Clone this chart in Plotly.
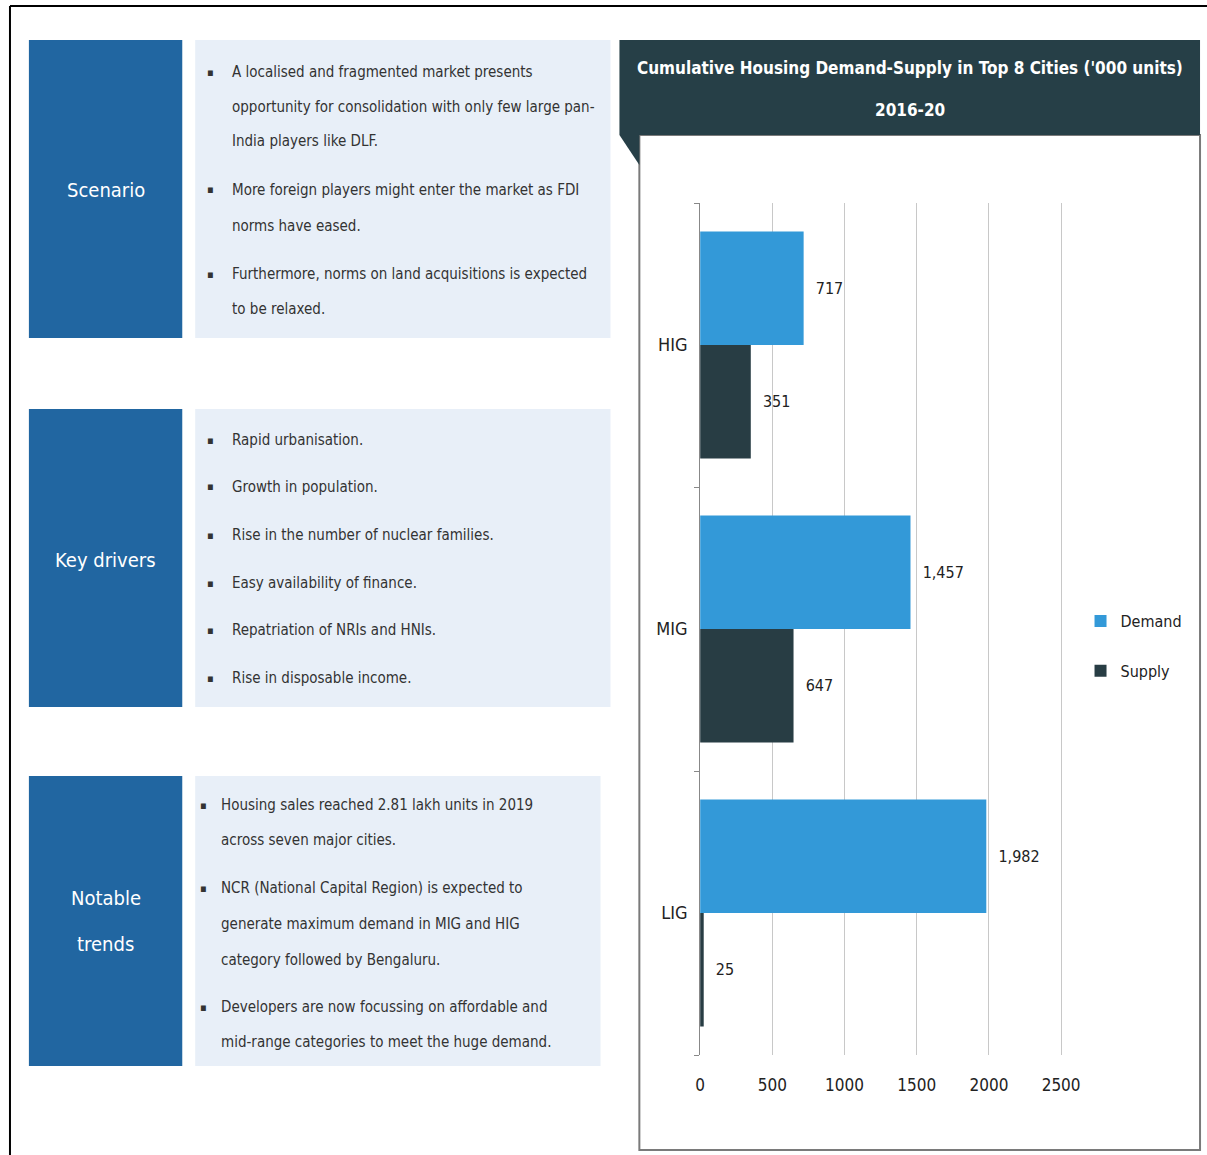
import plotly.graph_objects as go

# ---- data ----
categories = ["LIG", "MIG", "HIG"]
demand = [1982, 1457, 717]
supply = [25, 647, 351]
x_ticks = [0, 500, 1000, 1500, 2000, 2500]

title_lines = ["Cumulative Housing Demand-Supply in Top 8 Cities ('000 units)", "2016-20"]

scenario_lines = [
    ("A localised and fragmented market presents", True),
    ("opportunity for consolidation with only few large pan-", False),
    ("India players like DLF.", False),
    ("More foreign players might enter the market as FDI", True),
    ("norms have eased.", False),
    ("Furthermore, norms on land acquisitions is expected", True),
    ("to be relaxed.", False),
]
drivers_lines = [
    ("Rapid urbanisation.", True),
    ("Growth in population.", True),
    ("Rise in the number of nuclear families.", True),
    ("Easy availability of finance.", True),
    ("Repatriation of NRIs and HNIs.", True),
    ("Rise in disposable income.", True),
]
trends_lines = [
    ("Housing sales reached 2.81 lakh units in 2019", True),
    ("across seven major cities.", False),
    ("NCR (National Capital Region) is expected to", True),
    ("generate maximum demand in MIG and HIG", False),
    ("category followed by Bengaluru.", False),
    ("Developers are now focussing on affordable and", True),
    ("mid-range categories to meet the huge demand.", False),
]

# ---- styling ----
W, H = 1207, 1155
FONT = "DejaVu Sans Condensed, Liberation Sans Narrow, Arial Narrow, sans-serif"
DARK_BLUE = "#2166a1"
LIGHT_BOX = "#e8eff8"
HEADER = "#263f47"
DEMAND_C = "#3399d8"
SUPPLY_C = "#283d44"
TXT = "#333333"


def X(x):
    return x / W


def Y(y):
    return 1 - y / H


fig = go.Figure()
fig.add_trace(go.Bar(
    y=categories, x=supply, name="Supply", orientation="h",
    marker=dict(color=SUPPLY_C, line=dict(width=0)),
    texttemplate="  %{x:,}", textposition="outside", cliponaxis=False,
    textfont=dict(family=FONT, size=16, color="#222"),
    legendrank=2, legendgroup="s",
))
fig.add_trace(go.Bar(
    y=categories, x=demand, name="Demand", orientation="h",
    marker=dict(color=DEMAND_C, line=dict(width=0)),
    texttemplate="  %{x:,}", textposition="outside", cliponaxis=False,
    textfont=dict(family=FONT, size=16, color="#222"),
    legendrank=1, legendgroup="d",
))

shapes = []


def rect(x0, y0, x1, y1, fill, line=None, lw=0, layer="below"):
    shapes.append(dict(type="rect", xref="paper", yref="paper",
                       x0=X(x0), x1=X(x1), y0=Y(y1), y1=Y(y0),
                       fillcolor=fill, line=dict(width=lw, color=line or fill),
                       layer=layer))


# outer border (top and left)
shapes.append(dict(type="line", xref="paper", yref="paper", x0=X(5), x1=X(1207), y0=Y(6), y1=Y(6),
                   line=dict(color="black", width=2)))
shapes.append(dict(type="line", xref="paper", yref="paper", x0=X(5), x1=X(5), y0=Y(6), y1=Y(1155),
                   line=dict(color="black", width=2)))

# left panels
panels = [(40, 338, 608), (409, 707, 608), (776, 1066, 598)]
for (y0, y1, xr) in panels:
    rect(24, y0, 178, y1, DARK_BLUE)
    rect(191, y0, xr, y1, LIGHT_BOX)

# chart panel
rect(637, 135, 1200, 1150, "white", line="#7a7a7a", lw=2)
rect(617, 40, 1200, 135, HEADER)
shapes.append(dict(type="path", xref="paper", yref="paper",
                   path=f"M {X(617)},{Y(135)} L {X(637)},{Y(135)} L {X(637)},{Y(165)} Z",
                   fillcolor=HEADER, line=dict(width=0)))

annotations = []


def text(x, y, s, size=15, color=TXT, anchor="left", bold=False):
    annotations.append(dict(xref="paper", yref="paper", x=X(x), y=Y(y),
                            text=f"<b>{s}</b>" if bold else s,
                            showarrow=False, xanchor=anchor, yanchor="middle",
                            font=dict(family=FONT, size=size, color=color)))


# panel labels
text(101, 190, "Scenario", size=20, color="white", anchor="center")
text(101, 560, "Key drivers", size=20, color="white", anchor="center")
text(101, 898, "Notable", size=20, color="white", anchor="center")
text(101, 944, "trends", size=20, color="white", anchor="center")

# bullet text
scen_y = [72, 107, 141, 190, 226, 274, 309]
for (s, b), y in zip(scenario_lines, scen_y):
    if b:
        text(201, y, "▪", size=11)
    text(226, y, s)
drv_y = [440, 487, 535, 583, 630, 678]
for (s, b), y in zip(drivers_lines, drv_y):
    if b:
        text(201, y, "▪", size=11)
    text(226, y, s)
tr_y = [805, 840, 888, 924, 960, 1007, 1042]
for (s, b), y in zip(trends_lines, tr_y):
    if b:
        text(194, y, "▪", size=11)
    text(215, y, s)

# chart title
text(909, 68, title_lines[0], size=17, color="white", anchor="center", bold=True)
text(909, 110, title_lines[1], size=17, color="white", anchor="center", bold=True)

# axes geometry
x_left, x_right_px = 698, 698 + 2650 * 0.145
y_top, y_bot = 203, 1055

fig.update_layout(
    width=W, height=H,
    margin=dict(l=0, r=0, t=0, b=0),
    paper_bgcolor="white", plot_bgcolor="rgba(0,0,0,0)",
    barmode="group", bargap=0.2, bargroupgap=0.0,
    font=dict(family=FONT, color=TXT),
    shapes=shapes, annotations=annotations,
    showlegend=True,
    legend=dict(x=X(1080), y=Y(604), xanchor="left", yanchor="top",
                traceorder="grouped", font=dict(family=FONT, size=16, color="#222"),
                bgcolor="rgba(0,0,0,0)", itemwidth=30, tracegroupgap=26),
    xaxis=dict(domain=[X(x_left), X(x_right_px)], range=[0, 2650],
               tickvals=x_ticks, ticktext=[str(v) for v in x_ticks],
               showgrid=True, gridcolor="#c8c8c8", gridwidth=1,
               zeroline=False, showline=False, ticks="",
               ticklabelstandoff=18,
               tickfont=dict(family=FONT, size=17, color="#222")),
    yaxis=dict(domain=[Y(y_bot), Y(y_top)], range=[-0.5, 2.5],
               showline=True, linecolor="#888", linewidth=1,
               ticks="outside", ticklen=5, tickcolor="#888", tickson="boundaries",
               showgrid=False, zeroline=False, ticklabelstandoff=8,
               tickfont=dict(family=FONT, size=18, color="#222")),
)

fig.write_html(
    "out.html",
    config={"displayModeBar": False},
    post_script="document.body.style.margin='0';document.body.style.overflow='hidden';",
)
